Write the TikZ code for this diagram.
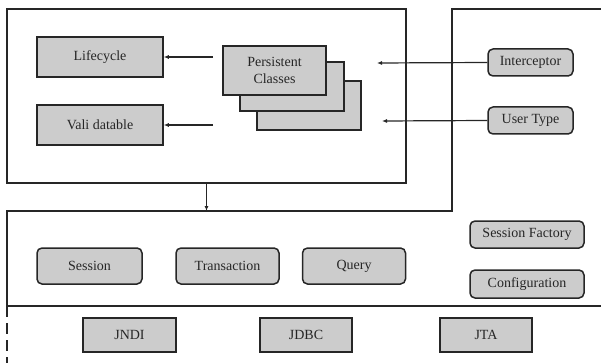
\documentclass[tikz,border=0pt]{standalone}
\usepackage{fontspec}
\setmainfont{Liberation Serif}
\usetikzlibrary{arrows.meta}
\definecolor{ink}{HTML}{262626}
\definecolor{boxfill}{HTML}{CCCCCC}
\tikzset{
  x=1pt, y=-1pt,
  frame/.style={draw=ink, line width=1.3pt},
  block/.style={draw=ink, line width=1.5pt, fill=boxfill, text=ink,
    inner sep=0pt, font=\fontsize{14}{16.5}\selectfont, align=center},
  roundblock/.style={block, rounded corners=5pt},
  flow/.style={draw=ink, line width=1.2pt, -{Latex[length=5pt,width=4pt]}},
}
\begin{document}
\begin{tikzpicture}
  \useasboundingbox (0,0) rectangle (601,363);

  % outer frames
  \node[frame, minimum width=399pt, minimum height=174pt, inner sep=0pt] (topbox) at (206.5,96) {};
  \draw[frame] (601,9) -- (452,9) -- (452,211) -- (7,211) -- (7,306);
  \draw[frame] (7,306) -- (601,306);
  \draw[frame, dash pattern=on 11pt off 6pt] (7,306) -- (7,363);

  % upper layer
  \node[block, minimum width=126pt, minimum height=40pt] (lifecycle) at (100,57) {Lifecycle};
  \node[block, minimum width=126pt, minimum height=40pt] (vali) at (100,125) {Vali datable};

  \node[block, minimum width=104pt, minimum height=49pt] (pc3) at (309,105.5) {};
  \node[block, minimum width=104pt, minimum height=49pt] (pc2) at (292,86.5) {};
  \node[block, minimum width=103pt, minimum height=49pt] (pc1) at (274.5,70.5) {Persistent\\Classes};

  \node[roundblock, minimum width=85pt, minimum height=27pt] (interceptor) at (530.5,62.5) {Interceptor};
  \node[roundblock, minimum width=85pt, minimum height=27pt] (usertype) at (530.5,120.5) {User Type};

  \coordinate (lcfrom) at (213,57);
  \coordinate (vafrom) at (213,125);
  \coordinate (icto) at (377,63);
  \coordinate (utto) at (382,121);
  \coordinate (midtop) at (206.5,211);

  \draw[flow] (lcfrom) -- (lifecycle.east);
  \draw[flow] (vafrom) -- (vali.east);
  \draw[flow] (interceptor.west) -- (icto);
  \draw[flow] (usertype.west) -- (utto);
  \draw[flow] (topbox.south) -- (midtop);

  % middle layer
  \node[roundblock, minimum width=105pt, minimum height=36pt] (session) at (89.5,266) {Session};
  \node[roundblock, minimum width=103pt, minimum height=36pt] (transaction) at (227.5,266) {Transaction};
  \node[roundblock, minimum width=103pt, minimum height=36pt] (query) at (354,266) {Query};
  \node[roundblock, minimum width=114pt, minimum height=27pt] (factory) at (527,234.5) {Session Factory};
  \node[roundblock, minimum width=114pt, minimum height=28pt] (config) at (527,284) {Configuration};

  % lower layer
  \node[block, minimum width=93pt, minimum height=34pt] (jndi) at (129.5,335) {JNDI};
  \node[block, minimum width=92pt, minimum height=34pt] (jdbc) at (306,335) {JDBC};
  \node[block, minimum width=92pt, minimum height=34pt] (jta) at (486,335) {JTA};
\end{tikzpicture}
\end{document}
